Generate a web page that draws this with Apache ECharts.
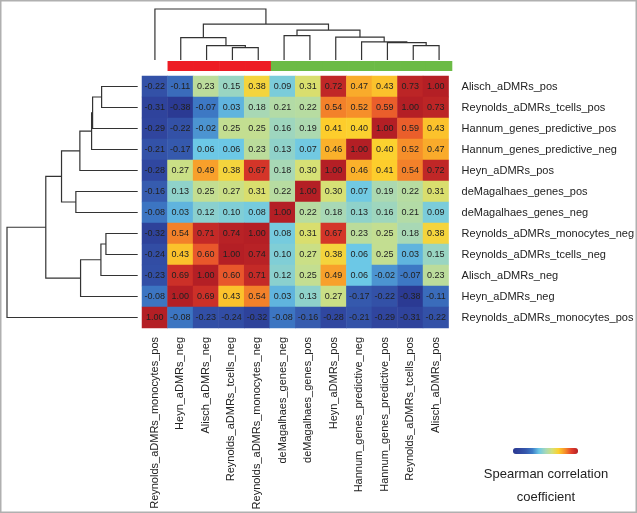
<!DOCTYPE html>
<html><head><meta charset="utf-8">
<script src="https://cdn.jsdelivr.net/npm/echarts@6/dist/echarts.min.js"></script>
<style>html,body{margin:0;padding:0;background:#fff}#c{width:637px;height:513px}</style>
</head><body><div id="c"></div>
<script>
const colLabels = ['Reynolds_aDMRs_monocytes_pos','Heyn_aDMRs_neg','Alisch_aDMRs_neg','Reynolds_aDMRs_tcells_neg','Reynolds_aDMRs_monocytes_neg','deMagalhaes_genes_neg','deMagalhaes_genes_pos','Heyn_aDMRs_pos','Hannum_genes_predictive_neg','Hannum_genes_predictive_pos','Reynolds_aDMRs_tcells_pos','Alisch_aDMRs_pos'];
const rowLabels = ['Alisch_aDMRs_pos','Reynolds_aDMRs_tcells_pos','Hannum_genes_predictive_pos','Hannum_genes_predictive_neg','Heyn_aDMRs_pos','deMagalhaes_genes_pos','deMagalhaes_genes_neg','Reynolds_aDMRs_monocytes_neg','Reynolds_aDMRs_tcells_neg','Alisch_aDMRs_neg','Heyn_aDMRs_neg','Reynolds_aDMRs_monocytes_pos'];
const values = [
 [-0.22,-0.11,0.23,0.15,0.38,0.09,0.31,0.72,0.47,0.43,0.73,1.00],
 [-0.31,-0.38,-0.07,0.03,0.18,0.21,0.22,0.54,0.52,0.59,1.00,0.73],
 [-0.29,-0.22,-0.02,0.25,0.25,0.16,0.19,0.41,0.40,1.00,0.59,0.43],
 [-0.21,-0.17,0.06,0.06,0.23,0.13,0.07,0.46,1.00,0.40,0.52,0.47],
 [-0.28,0.27,0.49,0.38,0.67,0.18,0.30,1.00,0.46,0.41,0.54,0.72],
 [-0.16,0.13,0.25,0.27,0.31,0.22,1.00,0.30,0.07,0.19,0.22,0.31],
 [-0.08,0.03,0.12,0.10,0.08,1.00,0.22,0.18,0.13,0.16,0.21,0.09],
 [-0.32,0.54,0.71,0.74,1.00,0.08,0.31,0.67,0.23,0.25,0.18,0.38],
 [-0.24,0.43,0.60,1.00,0.74,0.10,0.27,0.38,0.06,0.25,0.03,0.15],
 [-0.23,0.69,1.00,0.60,0.71,0.12,0.25,0.49,0.06,-0.02,-0.07,0.23],
 [-0.08,1.00,0.69,0.43,0.54,0.03,0.13,0.27,-0.17,-0.22,-0.38,-0.11],
 [1.00,-0.08,-0.23,-0.24,-0.32,-0.08,-0.16,-0.28,-0.21,-0.29,-0.31,-0.22]
];
// cluster merges (linkage style): [childA, childB, height]; leaves 0..11, new nodes 12..
const topMerges = [[3,4,12.3],[2,12,14.3],[1,13,22.3],[10,11,14.3],[9,15,17.3],[8,16,18],[7,17,22.7],[5,6,24.3],[19,18,29.7],[14,20,35.7],[0,21,50.7]];
const leftMerges = [[0,1,36],[12,2,45],[13,3,46],[14,4,57.7],[5,6,61.7],[15,16,76],[7,8,31.7],[18,9,36.7],[19,10,57],[17,20,91.7],[21,11,130.4]];
const colGroups = [null,'A','A','A','A','B','B','B','B','B','B','B'];
const groupColors = {A:'#ed1c24', B:'#6cbb46'};

function dendroSegments(merges, n){
  const pos = [], hgt = [];
  for (let i=0;i<n;i++){ pos.push(i); hgt.push(0); }
  const segs = [];
  merges.forEach(m=>{
    const a=m[0], b=m[1], h=m[2];
    segs.push([pos[a], hgt[a], pos[b], hgt[b], h]);
    pos.push((pos[a]+pos[b])/2); hgt.push(h);
  });
  return segs;
}
const topSegs = dendroSegments(topMerges, 12);
const leftSegs = dendroSegments(leftMerges, 12);

const heatData = [];
values.forEach((row,r)=>row.forEach((v,c)=>heatData.push([c,r,v])));
const groupData = [];
colGroups.forEach((g,i)=>{ if(g) groupData.push({value:[i, 1], itemStyle:{color:groupColors[g]}}); });

const lineStyle = {stroke:'#333', lineWidth:1.2, fill:null};
const chart = echarts.init(document.getElementById('c'));
chart.setOption({
  animation:false,
  grid:[
    {left:142, top:76, width:310, height:252},
    {left:142, top:9, width:310, height:51},
    {left:7, top:76, width:130.7, height:252},
    {left:142, top:61, width:310, height:10}
  ],
  xAxis:[
    {type:'category', gridIndex:0, data:colLabels, position:'bottom', axisLine:{show:false}, axisTick:{show:false},
     axisLabel:{rotate:90, fontSize:11, color:'#222', fontFamily:'Liberation Sans, Arial, sans-serif', margin:9, interval:0}},
    {type:'value', gridIndex:1, min:-0.5, max:11.5, show:false},
    {type:'value', gridIndex:2, min:0, max:130.4, inverse:true, show:false},
    {type:'value', gridIndex:3, min:-0.5, max:11.5, show:false}
  ],
  yAxis:[
    {type:'category', gridIndex:0, data:rowLabels, inverse:true, position:'right', axisLine:{show:false}, axisTick:{show:false},
     axisLabel:{fontSize:11, color:'#222', fontFamily:'Liberation Sans, Arial, sans-serif', margin:13, interval:0}},
    {type:'value', gridIndex:1, min:0, max:50.7, show:false},
    {type:'value', gridIndex:2, min:-0.5, max:11.5, inverse:true, show:false},
    {type:'value', gridIndex:3, min:0, max:1, show:false}
  ],
  visualMap:{
    type:'continuous', seriesIndex:0, min:-0.4, max:0.75, orient:'horizontal',
    left:498, top:433, itemWidth:6, itemHeight:65, calculable:false, hoverLink:false, text:null,
    inRange:{color:['#2a3890','#30469f','#3559ad','#3e7dc8','#6cc8e6','#a6d8b8','#d2e17c','#fdd02c','#f68f2a','#e23f2b','#b41f25']}
  },
  series:[
    {type:'heatmap', xAxisIndex:0, yAxisIndex:0, data:heatData,
     label:{show:true, fontSize:9, color:'#222', fontFamily:'Liberation Sans, Arial, sans-serif',
            formatter:p=>p.value[2].toFixed(2)},
     emphasis:{disabled:true}},
    {type:'custom', xAxisIndex:1, yAxisIndex:1, data:topSegs, silent:true,
     renderItem:(params, api)=>{
       const p1=api.coord([api.value(0),api.value(1)]), p2=api.coord([api.value(0),api.value(4)]);
       const p3=api.coord([api.value(2),api.value(4)]), p4=api.coord([api.value(2),api.value(3)]);
       return {type:'polyline', shape:{points:[p1,p2,p3,p4]}, style:lineStyle};
     }},
    {type:'custom', xAxisIndex:2, yAxisIndex:2, data:leftSegs, silent:true,
     renderItem:(params, api)=>{
       const p1=api.coord([api.value(1),api.value(0)]), p2=api.coord([api.value(4),api.value(0)]);
       const p3=api.coord([api.value(4),api.value(2)]), p4=api.coord([api.value(3),api.value(2)]);
       return {type:'polyline', shape:{points:[p1,p2,p3,p4]}, style:lineStyle};
     }},
    {type:'custom', xAxisIndex:3, yAxisIndex:3, data:groupData, silent:true,
     renderItem:(params, api)=>{
       const i=api.value(0);
       const a=api.coord([i-0.5, api.value(1)]), b=api.coord([i+0.5, 0]);
       return {type:'rect', shape:{x:a[0]-0.3, y:a[1], width:b[0]-a[0]+0.6, height:b[1]-a[1]},
               style:{fill:api.visual('color')}};
     }}
  ],
  graphic:[
    {type:'rect', shape:{x:0.75, y:0.75, width:635.5, height:511.5}, style:{fill:null, stroke:'#b0b0b0', lineWidth:1.5}, silent:true},
    {type:'text', x:546, y:474, style:{text:'Spearman correlation', fill:'#222', font:'13px "Liberation Sans", Arial, sans-serif', textAlign:'center', textVerticalAlign:'middle'}},
    {type:'text', x:546, y:497, style:{text:'coefficient', fill:'#222', font:'13px "Liberation Sans", Arial, sans-serif', textAlign:'center', textVerticalAlign:'middle'}}
  ]
});
</script></body></html>
